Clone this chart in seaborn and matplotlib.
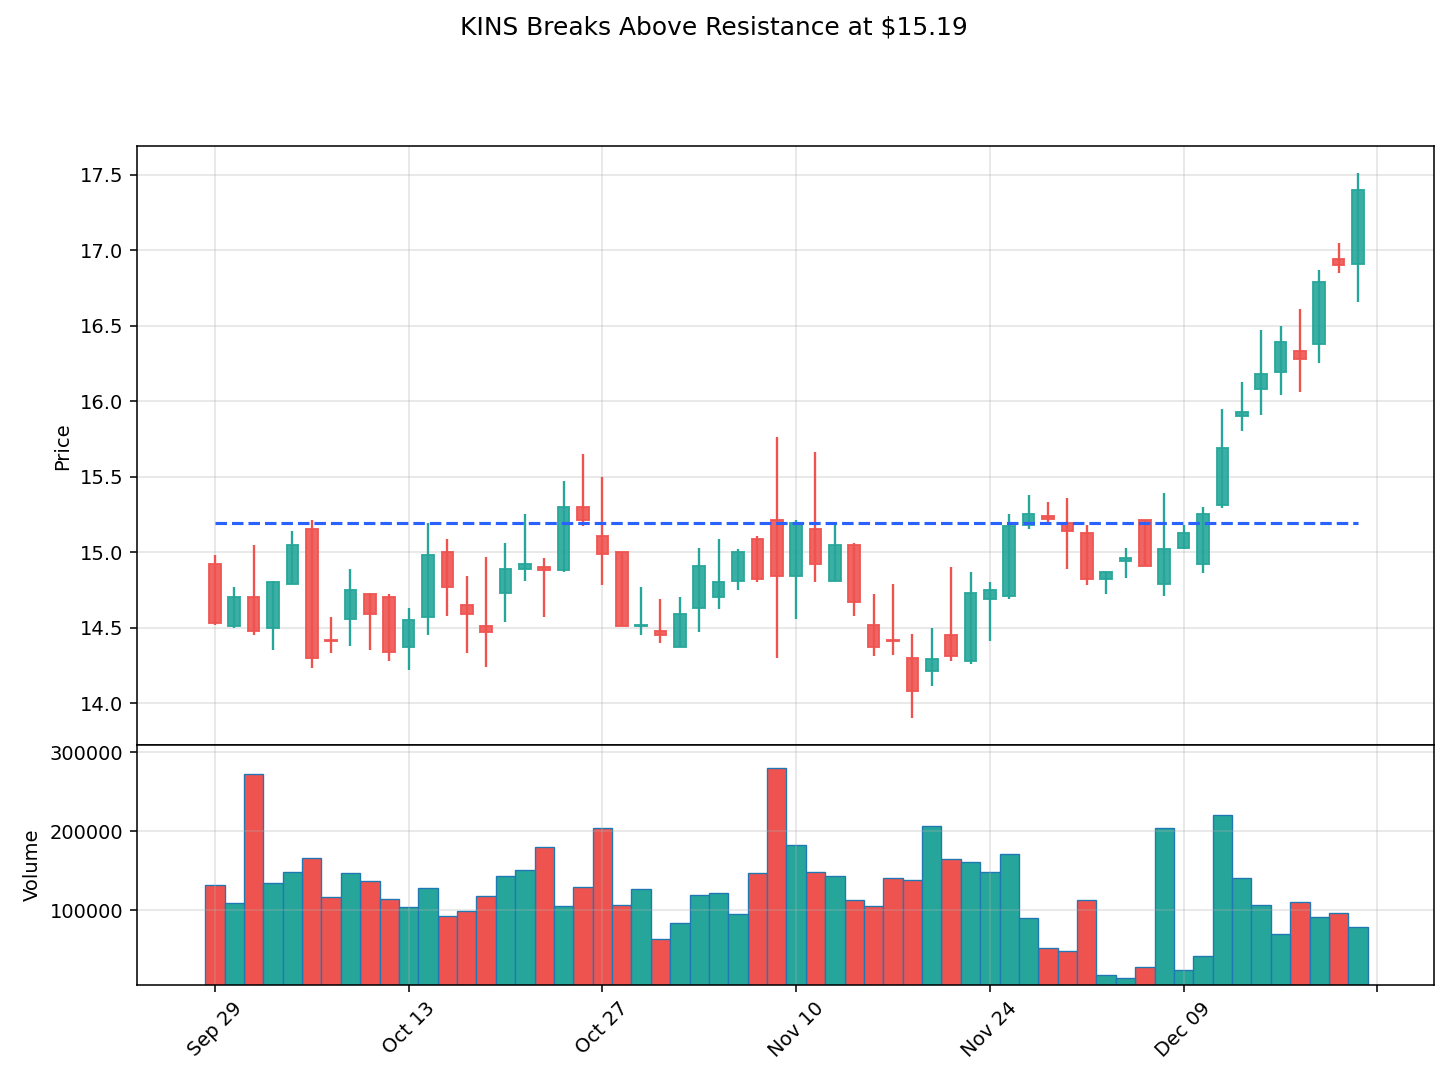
import matplotlib
matplotlib.use("Agg")
import matplotlib.pyplot as plt
import matplotlib.ticker as mticker
import numpy as np
import pandas as pd
import seaborn as sns

# OHLC values (60 trading days, Sep 29 - Dec 22)
opens = [14.92, 14.51, 14.70, 14.50, 14.79, 15.15, 14.42, 14.56, 14.72, 14.70,
         14.37, 14.57, 15.00, 14.65, 14.51, 14.73, 14.89, 14.90, 14.88, 15.30,
         15.11, 15.00, 14.51, 14.48, 14.37, 14.63, 14.70, 14.81, 15.09, 15.21,
         14.84, 15.15, 14.81, 15.05, 14.52, 14.42, 14.30, 14.21, 14.45, 14.28,
         14.69, 14.71, 15.18, 15.24, 15.19, 15.13, 14.82, 14.94, 15.21, 14.79,
         15.03, 14.92, 15.31, 15.90, 16.08, 16.19, 16.33, 16.38, 16.94, 16.91]
highs = [14.98, 14.77, 15.05, 14.81, 15.14, 15.21, 14.57, 14.89, 14.73, 14.72,
         14.63, 15.19, 15.09, 14.84, 14.97, 15.06, 15.25, 14.96, 15.47, 15.65,
         15.50, 15.00, 14.77, 14.69, 14.70, 15.03, 15.09, 15.02, 15.11, 15.76,
         15.21, 15.66, 15.18, 15.06, 14.72, 14.79, 14.46, 14.50, 14.90, 14.87,
         14.80, 15.25, 15.38, 15.33, 15.36, 15.18, 14.87, 15.03, 15.21, 15.39,
         15.18, 15.30, 15.95, 16.13, 16.47, 16.50, 16.61, 16.87, 17.05, 17.51]
lows = [14.52, 14.50, 14.45, 14.35, 14.79, 14.23, 14.33, 14.38, 14.35, 14.28,
        14.22, 14.45, 14.58, 14.33, 14.24, 14.54, 14.81, 14.57, 14.87, 15.17,
        14.78, 14.51, 14.45, 14.40, 14.37, 14.47, 14.62, 14.75, 14.80, 14.30,
        14.56, 14.80, 14.81, 14.58, 14.31, 14.32, 13.90, 14.11, 14.28, 14.26,
        14.41, 14.69, 15.15, 15.20, 14.89, 14.78, 14.72, 14.83, 14.91, 14.71,
        15.02, 14.86, 15.29, 15.80, 15.91, 16.04, 16.06, 16.25, 16.85, 16.66]
closes = [14.53, 14.70, 14.48, 14.80, 15.05, 14.30, 14.41, 14.75, 14.59, 14.34,
          14.55, 14.98, 14.77, 14.59, 14.47, 14.89, 14.92, 14.88, 15.30, 15.21,
          14.99, 14.51, 14.52, 14.45, 14.59, 14.91, 14.80, 15.00, 14.82, 14.84,
          15.19, 14.92, 15.05, 14.67, 14.37, 14.41, 14.08, 14.29, 14.31, 14.73,
          14.75, 15.17, 15.25, 15.22, 15.14, 14.82, 14.87, 14.96, 14.91, 15.02,
          15.13, 15.25, 15.69, 15.93, 16.18, 16.39, 16.28, 16.79, 16.90, 17.40]
volumes = [132100, 109300, 272900, 134700, 149000, 166400, 116900, 147400, 137200, 114400,
           104200, 128300, 92800, 99200, 118200, 143600, 151200, 180300, 105500, 129600,
           204400, 106800, 127100, 64100, 83900, 119500, 122000, 95300, 147800, 280500,
           182900, 148600, 143600, 113100, 105500, 141000, 138500, 207000, 165100, 161300,
           148600, 171900, 90300, 52200, 48400, 113100, 18400, 14600, 28100, 204400,
           24300, 42100, 220100, 141000, 106800, 70000, 110600, 91500, 96200, 78900]

tick_labels = ["Sep 29", "Oct 13", "Oct 27", "Nov 10", "Nov 24", "Dec 09", ""]
resistance = 15.19
ticker_name = "KINS"

UP = "#26a69a"
DOWN = "#ef5350"

df = pd.DataFrame({"open": opens, "high": highs, "low": lows,
                   "close": closes, "volume": volumes})
df["idx"] = np.arange(len(df))
df["dir"] = np.where(df["close"] >= df["open"], "up", "down")
colors = df["dir"].map({"up": UP, "down": DOWN})

fig, (ax1, ax2) = plt.subplots(2, 1, sharex=True, figsize=(1448 / 140, 1082 / 140),
                               gridspec_kw={"height_ratios": [2.5, 1], "hspace": 0})
fig.subplots_adjust(left=0.0946, right=0.9903, top=0.865, bottom=0.0896)

# candles: wicks then bodies
ax1.vlines(df["idx"], df["low"], df["high"], colors=colors, linewidth=1.2, zorder=2)
body_lo = df[["open", "close"]].min(axis=1)
body_h = (df["open"] - df["close"]).abs()
ax1.bar(df["idx"], body_h, bottom=body_lo, width=0.6, color=colors,
        edgecolor=colors, linewidth=1, alpha=0.9, zorder=3)

# resistance line
ax1.hlines(resistance, df["idx"].min(), df["idx"].max(), colors="#2962ff",
           linestyles="--", linewidth=1.6, zorder=4)

ax1.set_ylabel("Price")
ax1.set_ylim(13.72, 17.69)
ax1.yaxis.set_major_locator(mticker.MultipleLocator(0.5))
ax1.grid(True, alpha=0.35)

# volume
sns.barplot(data=df, x="idx", y="volume", hue="dir", palette={"up": UP, "down": DOWN},
            native_scale=True, width=1.0, dodge=False, saturation=1, errorbar=None,
            edgecolor="#1f77b4", linewidth=0.7, legend=False, ax=ax2)
ax2.set_ylabel("Volume")
ax2.set_xlabel("")
ax2.set_ylim(min(volumes) * 0.4, max(volumes) * 1.1)
ax2.yaxis.set_major_locator(mticker.FixedLocator([100000, 200000, 300000]))
ax2.yaxis.set_major_formatter(mticker.FormatStrFormatter("%d"))
ax2.grid(True, alpha=0.35)

ax2.set_xlim(-4.02, 62.92)
ax2.xaxis.set_major_locator(mticker.FixedLocator(np.arange(0, 61, 10)))
ax2.xaxis.set_major_formatter(mticker.FixedFormatter(tick_labels))
plt.setp(ax2.get_xticklabels(), rotation=45)
ax1.tick_params(labelbottom=False)

fig.suptitle(f"{ticker_name} Breaks Above Resistance at ${resistance:.2f}",
             fontsize=12.8, x=0.493, y=0.986)

plt.savefig("out.png", dpi=140)
